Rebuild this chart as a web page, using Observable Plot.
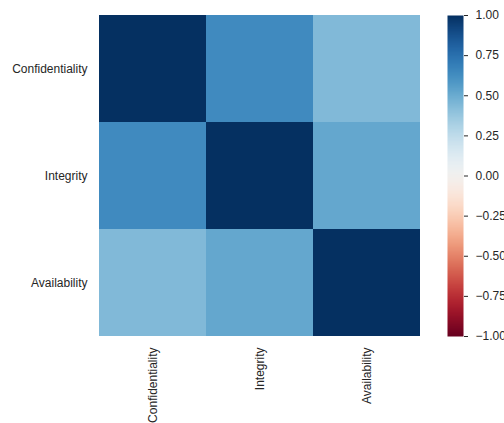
<!DOCTYPE html>
<html>
<head>
<meta charset="utf-8">
<script src="https://cdn.jsdelivr.net/npm/d3@7"></script>
<script src="https://cdn.jsdelivr.net/npm/@observablehq/plot@0.6"></script>
<style>
  html, body { margin: 0; padding: 0; background: #fff; overflow: hidden; }
  #wrap { position: relative; width: 504px; height: 423px; }
  #wrap svg { position: absolute; top: 0; font-family: "Liberation Sans", Arial, sans-serif; }
</style>
</head>
<body>
<div id="wrap"></div>
<script>
const categories = ["Confidentiality", "Integrity", "Availability"];
const corrMatrix = [
  [1.00, 0.64, 0.44],
  [0.64, 1.00, 0.52],
  [0.44, 0.52, 1.00]
];
const colorbarTicks = [-1, -0.75, -0.5, -0.25, 0, 0.25, 0.5, 0.75, 1];

const cells = [];
categories.forEach((row, i) => categories.forEach((col, j) => {
  cells.push({row, col, value: corrMatrix[i][j]});
}));

const colorOpts = {type: "linear", scheme: "rdbu", domain: [-1, 1]};
const textColor = "#262626";

const main = Plot.plot({
  width: 430,
  height: 423,
  marginLeft: 98,
  marginRight: 10,
  marginTop: 15,
  marginBottom: 87,
  style: {fontSize: "12px", color: textColor, background: "transparent"},
  x: {domain: categories, padding: 0, label: null, tickSize: 0, tickPadding: 11, tickRotate: -90},
  y: {domain: categories, padding: 0, label: null, tickSize: 0, tickPadding: 11},
  color: colorOpts,
  marks: [
    Plot.cell(cells, {x: "col", y: "row", fill: "value"})
  ]
});
main.style.left = "0px";

const bar = Plot.plot({
  width: 74,
  height: 423,
  marginLeft: 17,
  marginRight: 41,
  marginTop: 15,
  marginBottom: 87,
  style: {fontSize: "12px", color: textColor, background: "transparent", overflow: "visible"},
  x: {domain: [0, 1], axis: null},
  y: {domain: [-1, 1], axis: "right", ticks: colorbarTicks, tickFormat: d3.format(".2f"), tickSize: 4, tickPadding: 8, label: null},
  color: colorOpts,
  marks: [
    Plot.raster({x1: 0, x2: 1, y1: -1, y2: 1, width: 1, height: 200, fill: (x, y) => y, interpolate: null, imageRendering: "auto"})
  ]
});
bar.style.left = "430px";

document.getElementById("wrap").append(main, bar);
</script>
</body>
</html>
